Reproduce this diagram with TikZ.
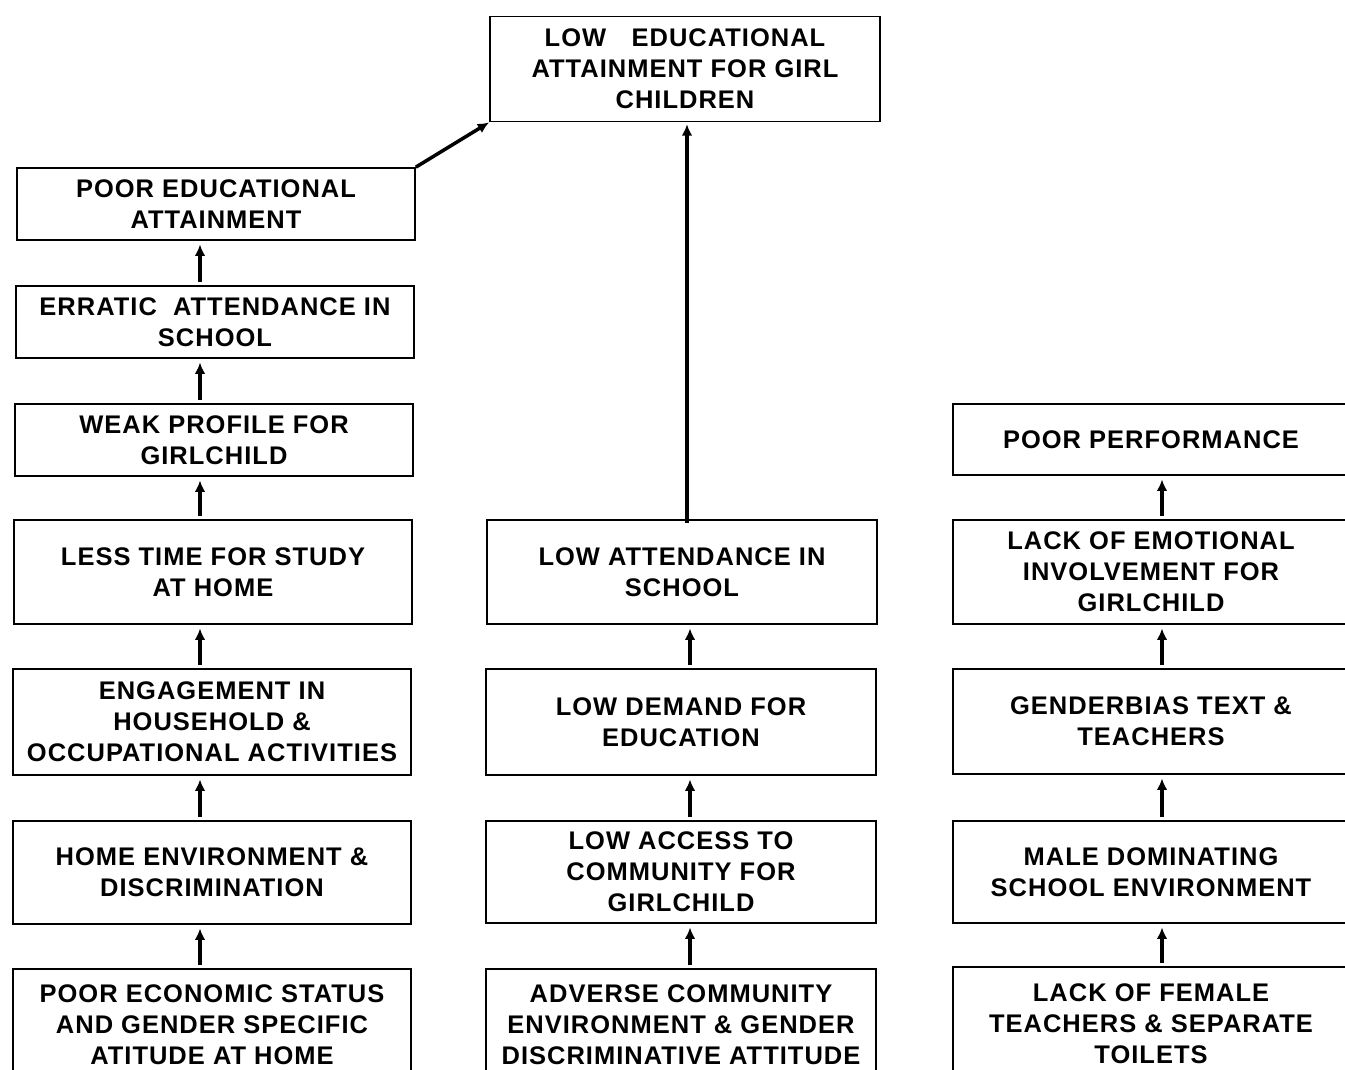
\documentclass[tikz,border=0pt]{standalone}
\usepackage{fontspec}
\setmainfont{Liberation Sans}[LetterSpace=4.0]
\usetikzlibrary{arrows.meta,calc}

\tikzset{
  blok/.style={draw, line width=1pt, align=center, inner sep=2pt,
    font=\bfseries\fontsize{14.5}{17.6}\selectfont},
  blokL/.style={blok, minimum width=7.96cm},
  blokM/.style={blok, minimum width=7.8cm},
  blokR/.style={blok, minimum width=7.92cm},
  flecha/.style={line width=2pt, -{Latex[length=6.5pt,width=6pt]},
    shorten <=2pt, shorten >=2pt},
}

\begin{document}
\begin{tikzpicture}[x=0.02cm, y=-0.02cm]
  \useasboundingbox (0,0) rectangle (1345,1069);
  \clip (0,0) rectangle (1345,1069);
  % arrow columns
  \coordinate (axL) at (200,0);
  \coordinate (axM) at (690,0);
  \coordinate (axT) at (687,0);
  \coordinate (axR) at (1162,0);
  % top box
  \node[blokM, minimum height=2.1cm] (lea) at (685,69)
    {LOW\quad EDUCATIONAL\\ATTAINMENT FOR GIRL\\CHILDREN};
  % left column
  \node[blokL, minimum height=1.44cm] (pea) at (216,204)
    {POOR EDUCATIONAL\\ATTAINMENT};
  \node[blokL, minimum height=1.44cm] (era) at (215,322)
    {ERRATIC\ \ ATTENDANCE IN\\SCHOOL};
  \node[blokL, minimum height=1.44cm] (wpg) at (214,440)
    {WEAK PROFILE FOR\\GIRLCHILD};
  \node[blokL, minimum height=2.08cm] (lts) at (213,572)
    {LESS TIME FOR STUDY\\AT HOME};
  \node[blokL, minimum height=2.12cm] (eng) at (212,722)
    {ENGAGEMENT IN\\HOUSEHOLD \&\\OCCUPATIONAL ACTIVITIES};
  \node[blokL, minimum height=2.06cm] (hed) at (212,872.5)
    {HOME ENVIRONMENT \&\\DISCRIMINATION};
  \node[blokL, minimum height=2.24cm] (pes) at (212,1025)
    {POOR ECONOMIC STATUS\\AND GENDER SPECIFIC\\ATITUDE AT HOME};
  % middle column
  \node[blokM, minimum height=2.08cm] (lat) at (682,572)
    {LOW ATTENDANCE IN\\SCHOOL};
  \node[blokM, minimum height=2.12cm] (ldm) at (681,722)
    {LOW DEMAND FOR\\EDUCATION};
  \node[blokM, minimum height=2.04cm] (lac) at (681,872)
    {LOW ACCESS TO\\COMMUNITY FOR\\GIRLCHILD};
  \node[blokM, minimum height=2.24cm] (adv) at (681,1025)
    {ADVERSE COMMUNITY\\ENVIRONMENT \& GENDER\\DISCRIMINATIVE ATTITUDE};
  % right column
  \node[blokR, minimum height=1.42cm] (ppf) at (1151,439.5)
    {POOR PERFORMANCE};
  \node[blokR, minimum height=2.08cm] (lei) at (1151,572)
    {LACK OF EMOTIONAL\\INVOLVEMENT FOR\\GIRLCHILD};
  \node[blokR, minimum height=2.1cm] (gbt) at (1151,721.5)
    {GENDERBIAS TEXT \&\\TEACHERS};
  \node[blokR, minimum height=2.04cm] (mds) at (1151,872)
    {MALE DOMINATING\\SCHOOL ENVIRONMENT};
  \node[blokR, minimum height=2.28cm] (lft) at (1151,1024)
    {LACK OF FEMALE\\TEACHERS \& SEPARATE\\TOILETS};
  % arrows left
  \draw[flecha] (pes.north -| axL) -- (hed.south -| axL);
  \draw[flecha] (hed.north -| axL) -- (eng.south -| axL);
  \draw[flecha] (eng.north -| axL) -- (lts.south -| axL);
  \draw[flecha] (lts.north -| axL) -- (wpg.south -| axL);
  \draw[flecha] (wpg.north -| axL) -- (era.south -| axL);
  \draw[flecha] (era.north -| axL) -- (pea.south -| axL);
  \draw[flecha, shorten <=0pt, shorten >=0pt] (pea.north east) -- (lea.south west);
  % arrows middle
  \draw[flecha] (adv.north -| axM) -- (lac.south -| axM);
  \draw[flecha] (lac.north -| axM) -- (ldm.south -| axM);
  \draw[flecha] (ldm.north -| axM) -- (lat.south -| axM);
  \draw[flecha, shorten <=-2pt, shorten >=1pt] (lat.north -| axT) -- (lea.south -| axT);
  % arrows right
  \draw[flecha] (lft.north -| axR) -- (mds.south -| axR);
  \draw[flecha] (mds.north -| axR) -- (gbt.south -| axR);
  \draw[flecha] (gbt.north -| axR) -- (lei.south -| axR);
  \draw[flecha] (lei.north -| axR) -- (ppf.south -| axR);
\end{tikzpicture}
\end{document}
